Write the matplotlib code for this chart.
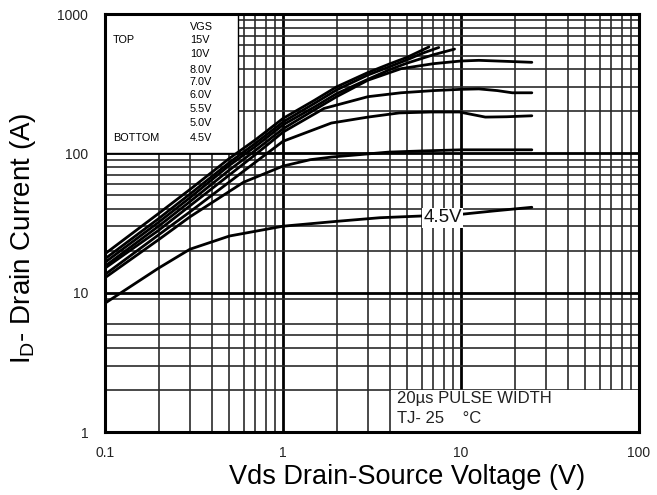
import matplotlib
matplotlib.use("Agg")
import matplotlib.pyplot as plt
from matplotlib.patches import Rectangle

plt.rcParams['font.family'] = ['Liberation Sans', 'DejaVu Sans']

# output curves, Vds (V) vs Id (A), one pair per gate voltage
vds_15 = [0.1, 0.2, 0.3, 0.5, 0.7, 1.0, 1.5, 2.0, 3.0, 4.0, 5.0, 6.6]
id_15 = [19, 37, 55, 92, 125, 178, 240, 300, 380, 440, 490, 580]
vds_10 = [0.1, 0.2, 0.3, 0.5, 0.7, 1.0, 1.5, 2.0, 3.0, 4.0, 5.0, 6.0, 7.5]
id_10 = [17.5, 34, 51, 86, 118, 168, 228, 285, 365, 420, 470, 520, 575]
vds_8 = [0.1, 0.2, 0.3, 0.5, 0.7, 1.0, 1.5, 2.0, 3.0, 4.0, 5.0, 7.0, 9.2]
id_8 = [16.5, 32, 48, 82, 112, 160, 215, 268, 340, 400, 445, 510, 560]
vds_7 = [0.1, 0.2, 0.3, 0.5, 0.7, 1.0, 1.5, 2.0, 3.0, 4.6, 7.0, 10, 12.6, 20, 25]
id_7 = [15.5, 30, 45, 76, 105, 150, 205, 255, 335, 405, 440, 460, 465, 455, 450]
vds_6 = [0.1, 0.2, 0.3, 0.5, 0.7, 1.0, 1.7, 3.0, 4.6, 7.0, 10, 12.6, 16, 19.4, 25]
id_6 = [15, 28, 42, 70, 98, 142, 210, 255, 272, 282, 288, 290, 282, 272, 272]
vds_55 = [0.1, 0.2, 0.3, 0.58, 1.0, 1.87, 3.0, 4.5, 6.8, 9.8, 13.7, 18, 25]
id_55 = [13.5, 26, 38, 72, 122, 165, 182, 195, 198, 198, 182, 183, 186]
vds_5 = [0.1, 0.2, 0.3, 0.6, 1.0, 1.42, 1.87, 3.9, 6.0, 10, 15, 25]
id_5 = [12.8, 24, 35, 62, 81, 90, 94, 102, 104, 106, 106, 106]
vds_45 = [0.1, 0.2, 0.3, 0.5, 1.0, 2.0, 3.5, 6.0, 10, 15, 25]
id_45 = [8.4, 15, 20.5, 25.5, 30, 32.5, 34.5, 35.5, 36.5, 38.5, 41]

curves = [(vds_15, id_15), (vds_10, id_10), (vds_8, id_8), (vds_7, id_7),
          (vds_6, id_6), (vds_55, id_55), (vds_5, id_5), (vds_45, id_45)]

vgs_labels = ["15V", "10V", "8.0V", "7.0V", "6.0V", "5.5V", "5.0V", "4.5V"]
x_ticks = [0.1, 1, 10, 100]
x_ticklabels = ["0.1", "1", "10", "100"]
y_ticks = [1, 10, 100, 1000]
y_ticklabels = ["1", "10", "100", "1000"]

fig = plt.figure(figsize=(6.57, 4.95), dpi=100)
ax = fig.add_axes([105 / 657, 63 / 495, 534 / 657, 418 / 495])
ax.set_xscale('log')
ax.set_yscale('log')
ax.set_xlim(0.1, 100)
ax.set_ylim(1, 1000)

# hand-drawn style grid, heavy at decades
for dec in [0.1, 1, 10]:
    for m in range(1, 10):
        ax.axvline(dec * m, color='black' if m == 1 else '#2a2a2a',
                   lw=2.0 if m == 1 else 1.2, zorder=1)
for dec in [1, 10, 100]:
    mults = [1, 2, 3, 4, 5, 6, 9] if dec == 1 else range(1, 10)
    for m in mults:
        ax.axhline(dec * m, color='black' if m == 1 else '#2a2a2a',
                   lw=2.0 if m == 1 else 1.2, zorder=1)

# white panels over the grid
ax.add_patch(Rectangle((0.1, 100), 0.46, 900, facecolor='white',
                       edgecolor='black', lw=1.0, zorder=2))
ax.add_patch(Rectangle((4.05, 1), 96, 1.0, facecolor='white',
                       edgecolor='none', zorder=2))

for vds, idr in curves:
    ax.plot(vds, idr, color='black', lw=2.0, zorder=3, solid_capstyle='round')

ax.text(7.9, 34.4, "4.5V", fontsize=13.5, ha='center', va='center',
        color='#111111', zorder=4,
        bbox=dict(facecolor='white', edgecolor='none', pad=1))

# gate voltage table
ax.text(0.159, 0.969, "VGS", transform=ax.transAxes, fontsize=7.8, va='center')
ax.text(0.015, 0.938, "TOP", transform=ax.transAxes, fontsize=7.8, va='center')
ax.text(0.015, 0.703, "BOTTOM", transform=ax.transAxes, fontsize=7.8, va='center')
ypos = [0.938, 0.904, 0.866, 0.837, 0.806, 0.773, 0.739, 0.703]
for lab, yy in zip(vgs_labels, ypos):
    ax.text(0.159, yy, lab, transform=ax.transAxes, fontsize=7.8, va='center')

ax.text(0.547, 0.081, "20µs PULSE WIDTH", transform=ax.transAxes,
        fontsize=12, va='center', color='#222222', zorder=4)
ax.text(0.547, 0.033, "TJ- 25    °C", transform=ax.transAxes,
        fontsize=12, va='center', color='#222222', zorder=4)

ax.set_xticks(x_ticks)
ax.set_xticklabels(x_ticklabels)
ax.set_yticks(y_ticks)
ax.set_yticklabels(y_ticklabels)
ax.minorticks_off()
ax.tick_params(direction='in', length=0, labelsize=10, labelcolor='#222222')
ax.tick_params(axis='x', pad=10)
ax.tick_params(axis='y', pad=12)
for sp in ax.spines.values():
    sp.set_linewidth(2.2)
    sp.set_zorder(5)

fig.text(407 / 657, 1 - 477 / 495, "Vds Drain-Source Voltage (V)",
         fontsize=19.5, ha='center', va='center')
fig.text(23 / 657, 1 - 238 / 495, r"I$_\mathregular{D}$- Drain Current (A)",
         fontsize=20, ha='center', va='center', rotation=90)

fig.savefig("out.png", dpi=100, facecolor='white')
